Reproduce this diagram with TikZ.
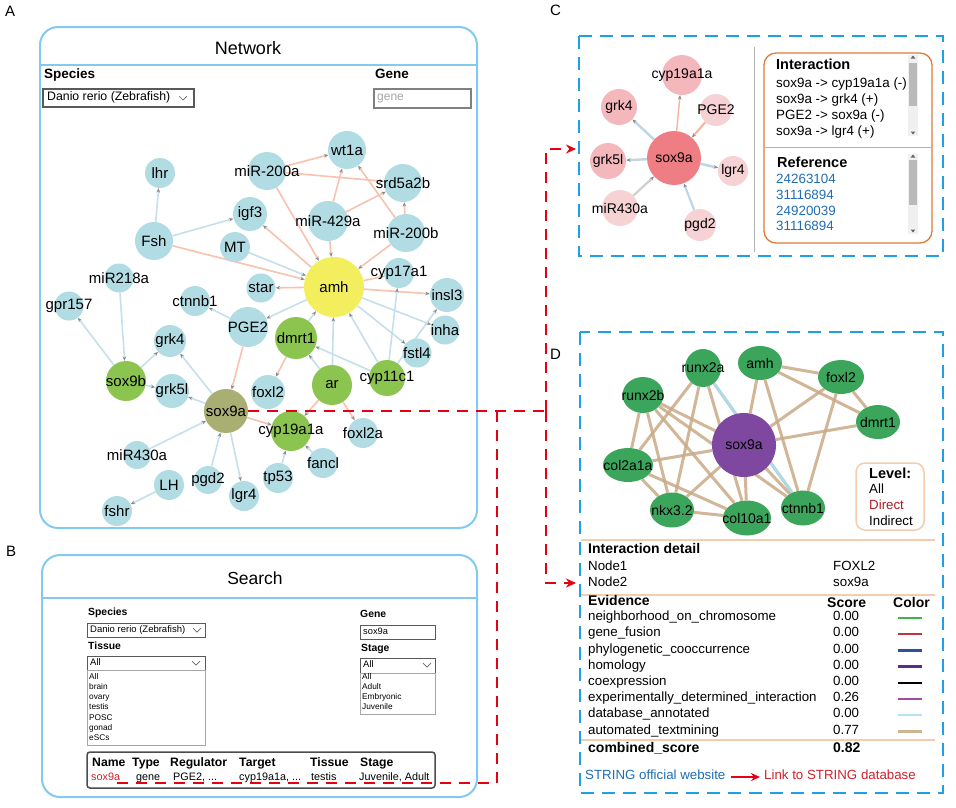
\documentclass[tikz,border=0pt]{standalone}
\usepackage{fontspec}
\setmainfont{Liberation Sans}
\usetikzlibrary{arrows.meta,shapes.geometric}
\pgfdeclarelayer{edges}
\pgfsetlayers{edges,main}
\definecolor{pbox}{HTML}{84C9F0}
\definecolor{dashblue}{HTML}{1FA0E6}
\definecolor{nblue}{HTML}{B1DCE3}
\definecolor{ngreen}{HTML}{8BC550}
\definecolor{nyellow}{HTML}{F2EE5E}
\definecolor{nolive}{HTML}{A9AE72}
\definecolor{eor}{HTML}{F8C2AC}
\definecolor{ebl}{HTML}{C5DFEB}
\definecolor{agray}{HTML}{8A8A8A}
\definecolor{rdash}{HTML}{E60012}
\definecolor{pk0}{HTML}{EE7D84}
\definecolor{pk1}{HTML}{F4B8BC}
\definecolor{pk2}{HTML}{F7D2D4}
\definecolor{dgreen}{HTML}{3CA55C}
\definecolor{dpurple}{HTML}{7E47A0}
\definecolor{dtan}{HTML}{C9AA85}
\definecolor{dcyan}{HTML}{A6DDF2}
\definecolor{peach}{HTML}{F5CCAE}
\definecolor{orbox}{HTML}{E0793A}
\definecolor{linkblue}{HTML}{1F6DB6}
\definecolor{txtred}{HTML}{D0202C}
\definecolor{cgray}{HTML}{CFCFCF}
\definecolor{cblue}{HTML}{BCD6E8}
\definecolor{corange}{HTML}{F5B49A}
\newcommand\fs[1]{\fontsize{#1}{#1}\selectfont}
% A-network node: [fill]{name}{label}{x,y}{radius}
\newcommand\An[5][nblue]{\node[acirc,fill=#1,minimum size=#5*2pt] (#2) at (#4) {};\node[alab] at (#2.center) {#3};}
% C-network node
\newcommand\Cn[5][pk1]{\node[acirc,fill=#1,minimum size=#5*2pt] (#2) at (#4) {};\node[clab] at (#2.center) {#3};}
% D-network node: {name}{label}{x,y}{w}{h}
\newcommand\Dn[5]{\node[ellipse,fill=dgreen,inner sep=0pt,minimum width=#4pt,minimum height=#5pt] (#1) at (#3) {};\node[clab] at (#1.center) {#2};}
\newcommand\chev[2]{\draw[black!60,line width=0.7pt] (#1-4,#2-2) -- ++(4,4) -- ++(4,-4);}
\begin{document}
\begin{tikzpicture}[x=1pt,y=-1pt,
  tx/.style={inner sep=0pt,anchor=west,text height=0.72em,text depth=0.2em},
  acirc/.style={circle,inner sep=0pt,draw=none},
  alab/.style={font=\fs{15},inner sep=0pt},
  clab/.style={font=\fs{14},inner sep=0pt},
  tip/.style={-{Stealth[length=4.5pt,width=3.6pt,color=agray]}},
  eo/.style={draw=eor,line width=1.6pt,tip},
  eb/.style={draw=ebl,line width=1.6pt,tip},
  pane/.style={draw=pbox,line width=2pt,rounded corners=18pt},
  dpane/.style={draw=dashblue,line width=2pt,dash pattern=on 13pt off 8pt},
  rd/.style={draw=rdash,line width=2pt,dash pattern=on 11pt off 8pt},
  de/.style={draw=dtan,line width=3pt,opacity=0.85},
  box/.style={draw=black!65,line width=1pt},
  lbox/.style={draw=black!35,line width=0.8pt},
]
\useasboundingbox (0,0) rectangle (956,807);

% ---------- panel letters
\node[tx,font=\fs{15}] (labA) at (5,14) {A};
\node[tx,font=\fs{15}] (labB) at (6,554) {B};
\node[tx,font=\fs{15}] (labC) at (550,13) {C};
\node[tx,font=\fs{15}] (labD) at (550,357) {D};

% ---------- panel A
\draw[pane] (40,27) rectangle (477,528);
\draw[draw=pbox,line width=2pt] (40,65) -- (477,65);
\node[font=\fs{18},inner sep=0pt] (tNet) at (248,48) {Network};
\node[tx,font=\bfseries\fs{13.5}] (spA) at (44,76) {Species};
\draw[box,line width=1.3pt] (43,89) rectangle (194,107);
\node[tx,font=\fs{12.3}] (spAv) at (47,98) {Danio rerio (Zebrafish)};
\chev{183}{98}
\node[tx,font=\bfseries\fs{13.5}] (geA) at (375,76) {Gene};
\draw[draw=black!50,line width=1.6pt] (374,89) rectangle (471,108);
\node[tx,font=\fs{12},text=black!35] (geAv) at (377,98) {gene};

\An{wt1a}{wt1a}{347,150}{19}
\An{m200a}{miR-200a}{267,171}{19}
\An{srd}{srd5a2b}{403,183}{19}
\An{igf}{igf3}{250,214}{17}
\An{m429}{miR-429a}{328,221}{20}
\An{m200b}{miR-200b}{406,233}{19}
\An{lhr}{lhr}{160,173}{15}
\An{fsh}{Fsh}{154,241}{19}
\An{mt}{MT}{235,247}{15}
\An[nyellow]{amh}{amh}{334,287}{30}
\An{cyp17}{cyp17a1}{399,273}{15}
\An{insl}{insl3}{447,295}{17}
\An{inha}{inha}{445,330}{14.5}
\An{fstl}{fstl4}{417,353}{14.5}
\An[ngreen]{cyp11}{cyp11c1}{387,378}{18}
\An[ngreen]{ar}{ar}{332,385}{20}
\An[ngreen]{dmrt}{dmrt1}{296,338}{21}
\An{foxl}{foxl2}{268,392}{17}
\An{star}{star}{261,288}{14.5}
\An{ctn}{ctnnb1}{195,301}{15}
\An{pge}{PGE2}{248,327}{20}
\An{m218}{miR218a}{119,278}{14.5}
\An{gpr}{gpr157}{69,306}{14.5}
\An{grkf}{grk4}{170,341}{16}
\An[ngreen]{soxb}{sox9b}{126,381}{20}
\An{grkl}{grk5l}{172,391}{17}
\An[nolive]{soxa}{sox9a}{226,411}{22}
\An[ngreen]{cyp19}{cyp19a1a}{291,431}{20}
\An{foxla}{foxl2a}{363,433}{15}
\An{m430}{miR430a}{137,455}{14}
\An{fancl}{fancl}{323,463}{15}
\An{tp}{tp53}{278,478}{15}
\An{pgd}{pgd2}{208,480}{14}
\An{lh}{LH}{169,485}{15}
\An{lgr}{lgr4}{244,496}{15}
\An{fshr}{fshr}{117,511}{15}

\begin{pgfonlayer}{edges}
\draw[eo] (m200a) -- (wt1a);
\draw[eo] (m200a) -- (srd);
\draw[eo] (m429) -- (wt1a);
\draw[eo] (m429) -- (srd);
\draw[eo] (m200b) -- (srd);
\draw[eo] (m200b) -- (wt1a);
\draw[eo] (m200a) -- (amh);
\draw[eo] (m429) -- (amh);
\draw[eo] (m200b) -- (amh);
\draw[eo] (amh) -- (igf);
\draw[eb] (fsh) -- (igf);
\draw[eb] (fsh) -- (lhr);
\draw[eo] (fsh) -- (amh);
\draw[eb] (mt) -- (amh);
\draw[eo] (amh) -- (star);
\draw[eb] (amh) -- (pge);
\draw[eo] (amh) -- (cyp17);
\draw[eo] (amh) -- (insl);
\draw[eb] (amh) -- (inha);
\draw[eb] (amh) -- (fstl);
\draw[eb] (cyp11) -- (amh);
\draw[eb] (ar) -- (amh);
\draw[eb] (dmrt) -- (amh);
\draw[eb] (cyp11) -- (cyp17);
\draw[eb] (cyp11) -- (insl);
\draw[eb] (cyp11) -- (dmrt);
\draw[eb] (ar) -- (dmrt);
\draw[eo] (dmrt) -- (foxl);
\draw[eo] (ar) -- (cyp19);
\draw[eo] (ar) -- (foxla);
\draw[eo] (pge) -- (soxa);
\draw[eb] (pge) -- (ctn);
\draw[eb] (soxa) -- (grkf);
\draw[eb] (soxa) -- (grkl);
\draw[eo] (soxa) -- (cyp19);
\draw[eb] (m430) -- (soxa);
\draw[eb] (pgd) -- (soxa);
\draw[eb] (soxa) -- (lgr);
\draw[eb] (tp) -- (cyp19);
\draw[eb] (fancl) -- (cyp19);
\draw[eb] (lh) -- (fshr);
\draw[eb] (soxb) -- (grkf);
\draw[eb] (soxb) -- (grkl);
\draw[eb] (soxb) -- (gpr);
\draw[eb] (m218) -- (soxb);
\end{pgfonlayer}

% ---------- panel B
\draw[pane] (42,555) rectangle (477,797);
\draw[draw=pbox,line width=2pt] (42,598) -- (477,598);
\node[font=\fs{17.5},inner sep=0pt] (tSea) at (255,578) {Search};
\node[tx,font=\bfseries\fs{10.4}] (spB) at (88,613) {Species};
\draw[box] (87,623) rectangle (205,637);
\node[tx,font=\fs{9.5}] (spBv) at (90,630) {Danio rerio (Zebrafish)};
\chev{197}{630}
\node[tx,font=\bfseries\fs{10.4}] (tiB) at (88,647) {Tissue};
\draw[box] (87,656) rectangle (205,670);
\node[tx,font=\fs{9.5}] (tiBv) at (90,663) {All};
\chev{196}{663}
\draw[lbox] (87,670) rectangle (205,745);
\foreach \t [count=\i from 0] in {All,brain,ovary,testis,POSC,gonad,eSCs}
  \node[tx,font=\fs{8.3}] (tis\i) at (89,677+10.1*\i) {\t};
\node[tx,font=\bfseries\fs{10.4}] (geB) at (360,615) {Gene};
\draw[box] (360,625) rectangle (435,639);
\node[tx,font=\fs{9.3}] (geBv) at (363,632) {sox9a};
\node[tx,font=\bfseries\fs{10.4}] (stB) at (361,649) {Stage};
\draw[box] (360,658) rectangle (435,673);
\node[tx,font=\fs{9.5}] (stBv) at (363,665) {All};
\chev{427}{665}
\draw[lbox] (360,673) rectangle (435,714);
\foreach \t [count=\i from 0] in {All,Adult,Embryonic,Juvenile}
  \node[tx,font=\fs{8.3}] (stg\i) at (362,677+10*\i) {\t};
\draw[draw=black!70,line width=1.5pt,rounded corners=3pt] (87,752) rectangle (435,788);
\foreach \h/\x in {Name/92,Type/132,Regulator/170,Target/239,Tissue/310,Stage/360}
  \node[tx,font=\bfseries\fs{12.2}] (h\h) at (\x,764) {\h};
\node[tx,font=\fs{10.8},text=txtred] (r1) at (91,778) {sox9a};
\node[tx,font=\fs{10.8}] (r2) at (136,778) {gene};
\node[tx,font=\fs{10.8}] (r3) at (173,778) {PGE2, ...};
\node[tx,font=\fs{10.8}] (r4) at (239,778) {cyp19a1a, ...};
\node[tx,font=\fs{10.8}] (r5) at (311,778) {testis};
\node[tx,font=\fs{10.8}] (r6) at (359,778) {Juvenile, Adult};

% ---------- panel C
\draw[dpane] (579,36) rectangle (943,256);
\draw[draw=black!30,line width=1pt] (754,47) -- (754,252);
\Cn[pk0]{csox}{sox9a}{674,158}{27}
\Cn{ccyp}{cyp19a1a}{682,75}{20}
\Cn{cgrk}{grk4}{619,107}{18}
\Cn[pk2]{cpge}{PGE2}{716,110}{16}
\Cn{cgrl}{grk5l}{608,161}{18}
\Cn[pk2]{clgr}{lgr4}{733,171}{15}
\Cn[pk2]{cmir}{miR430a}{620,208}{18}
\Cn[pk2]{cpgd}{pgd2}{700,225}{16}
\begin{pgfonlayer}{edges}
\draw[draw=corange,line width=1.4pt,tip] (csox) -- (ccyp);
\draw[draw=cblue,line width=2.4pt,tip] (csox) -- (cgrk);
\draw[draw=corange,line width=2pt,tip] (cpge) -- (csox);
\draw[draw=cblue!60!cgray,line width=2.4pt,tip] (csox) -- (cgrl);
\draw[draw=cblue,line width=2.4pt,tip] (csox) -- (clgr);
\draw[draw=cgray,line width=2.2pt,tip] (cmir) -- (csox);
\draw[draw=cblue,line width=2.2pt,tip] (cpgd) -- (csox);
\end{pgfonlayer}
\draw[draw=orbox,line width=1.3pt,rounded corners=12pt] (764,53) rectangle (932,243);
\draw[draw=black!30,line width=1pt] (764,147) -- (932,147);
\node[tx,font=\bfseries\fs{14.5}] (iTit) at (776,67) {Interaction};
\node[tx,font=\fs{13.4}] (i1) at (776,85) {sox9a -> cyp19a1a (-)};
\node[tx,font=\fs{13.4}] (i2) at (776,101) {sox9a -> grk4 (+)};
\node[tx,font=\fs{13.4}] (i3) at (776,117) {PGE2 -> sox9a (-)};
\node[tx,font=\fs{13.4}] (i4) at (776,133) {sox9a -> lgr4 (+)};
\node[tx,font=\bfseries\fs{14.5}] (rTit) at (777,165) {Reference};
\foreach \r [count=\i from 0] in {24263104,31116894,24920039,31116894}
  \node[tx,font=\fs{13.4},text=linkblue] (ref\i) at (776,181+15.7*\i) {\r};
% scrollbars
\fill[black!6] (908,55) rectangle (918,136);
\fill[black!27] (909,63) rectangle (917,106);
\fill[black!60] (913,55.5) -- (915.3,58.5) -- (910.7,58.5) -- cycle;
\fill[black!60] (913,134.5) -- (915.3,131.5) -- (910.7,131.5) -- cycle;
\fill[black!6] (908,154) rectangle (918,234);
\fill[black!27] (909,160) rectangle (917,205);
\fill[black!60] (913,154.5) -- (915.3,157.5) -- (910.7,157.5) -- cycle;
\fill[black!60] (913,232.5) -- (915.3,229.5) -- (910.7,229.5) -- cycle;

% ---------- panel D
\draw[dpane] (580,332) rectangle (943,793);
\Dn{drxa}{runx2a}{703,368}{36}{38}
\Dn{damh}{amh}{760,363}{44}{34}
\Dn{dfox}{foxl2}{841,377}{46}{34}
\Dn{drxb}{runx2b}{643,395}{41}{36}
\Dn{ddmr}{dmrt1}{878,422}{44}{34}
\node[circle,fill=dpurple,inner sep=0pt,minimum size=64pt] (dsox) at (744,445) {};
\node[clab] at (dsox.center) {sox9a};
\Dn{dcol2}{col2a1a}{628,465}{50}{34}
\Dn{dnkx}{nkx3.2}{672,510}{44}{35}
\Dn{dcol10}{col10a1}{747,518}{48}{35}
\Dn{dctn}{ctnnb1}{803,508}{44}{35}
\begin{pgfonlayer}{edges}
\foreach \a/\b in {drxa/dcol2,drxa/dnkx,drxa/dcol10,drxa/dctn,damh/dsox,damh/dctn,damh/dfox,damh/ddmr,dfox/ddmr,dfox/dsox,dfox/dctn,ddmr/dsox,drxb/dsox,drxb/dcol2,drxb/dnkx,drxb/dcol10,drxb/dctn,dcol2/dsox,dcol2/dnkx,dcol2/dcol10,dnkx/dcol10,dnkx/dsox,dcol10/dsox,dctn/dsox}
  \draw[de] (\a) -- (\b);
\draw[draw=dcyan,line width=2.5pt] (drxa) -- (dctn);
\end{pgfonlayer}
\draw[draw=peach,line width=1.5pt,rounded corners=9pt] (856,463) rectangle (924,530);
\node[tx,font=\bfseries\fs{14.5}] (lvT) at (869,476) {Level:};
\node[tx,font=\fs{13.3}] (lv1) at (869,491) {All};
\node[tx,font=\fs{13.3},text=txtred!85!black] (lv2) at (869,507) {Direct};
\node[tx,font=\fs{13.3}] (lv3) at (869,523) {Indirect};
\draw[draw=peach,line width=1.5pt] (581,540) -- (935,540);
\draw[draw=peach,line width=1.5pt] (581,595) -- (935,595);
\draw[draw=peach,line width=1.5pt] (581,740) -- (935,740);
\node[tx,font=\bfseries\fs{14}] (idT) at (588,551) {Interaction detail};
\node[tx,font=\fs{13.3}] (n1) at (588,568) {Node1};
\node[tx,font=\fs{13.3}] (n1v) at (833,568) {FOXL2};
\node[tx,font=\fs{13.3}] (n2) at (588,584) {Node2};
\node[tx,font=\fs{13.3}] (n2v) at (833,584) {sox9a};
\node[tx,font=\bfseries\fs{14}] (evT) at (588,603) {Evidence};
\node[tx,font=\bfseries\fs{14}] (scT) at (827,605) {Score};
\node[tx,font=\bfseries\fs{14}] (coT) at (893,605) {Color};
\foreach \n/\s/\c [count=\i from 0] in {neighborhood\_on\_chromosome/0.00/3DB54A,gene\_fusion/0.00/C0343C,phylogenetic\_cooccurrence/0.00/2F4FA2,homology/0.00/5A2D8C,coexpression/0.00/000000,experimentally\_determined\_interaction/0.26/A24BA3,database\_annotated/0.00/B5E3F5,automated\_textmining/0.77/CDB592}{
  \node[tx,font=\fs{13.3}] (ev\i) at (588,618+16.2*\i) {\n};
  \node[tx,font=\fs{13.3}] (sc\i) at (833,618+16.2*\i) {\s};
  \definecolor{tmpc}{HTML}{\c}
  \draw[draw=tmpc,line width=2.5pt] (898,618+16.2*\i) -- (922,618+16.2*\i);
}
\node[tx,font=\bfseries\fs{14}] (cbT) at (588,750) {combined\_score};
\node[tx,font=\bfseries\fs{14}] (cbV) at (833,750) {0.82};
\node[tx,font=\fs{13.3},text=linkblue] (stW) at (585,777) {STRING official website};
\node[tx,font=\fs{13.3},text=txtred] (stL) at (764,777) {Link to STRING database};
\draw[draw=rdash,line width=1.5pt,-{Stealth[length=9pt,width=8pt]}] (stW.east) ++(5,0) -- ([xshift=-4pt]stL.west);

% ---------- red dashed connectors
\coordinate (jR) at (546,411);
\coordinate (jL) at (497,411);
\coordinate (cIn) at (576,149);
\coordinate (dIn) at (576,583);
\coordinate (tabEnd) at (117,783);
\draw[rd] (soxa.east) -- (jR);
\draw[rd,-{Stealth[length=10pt,width=9pt]}] (jR) |- (cIn);
\draw[rd,-{Stealth[length=10pt,width=9pt]}] (jR) |- (dIn);
\draw[rd] (jL) |- (tabEnd);
\end{tikzpicture}
\end{document}
